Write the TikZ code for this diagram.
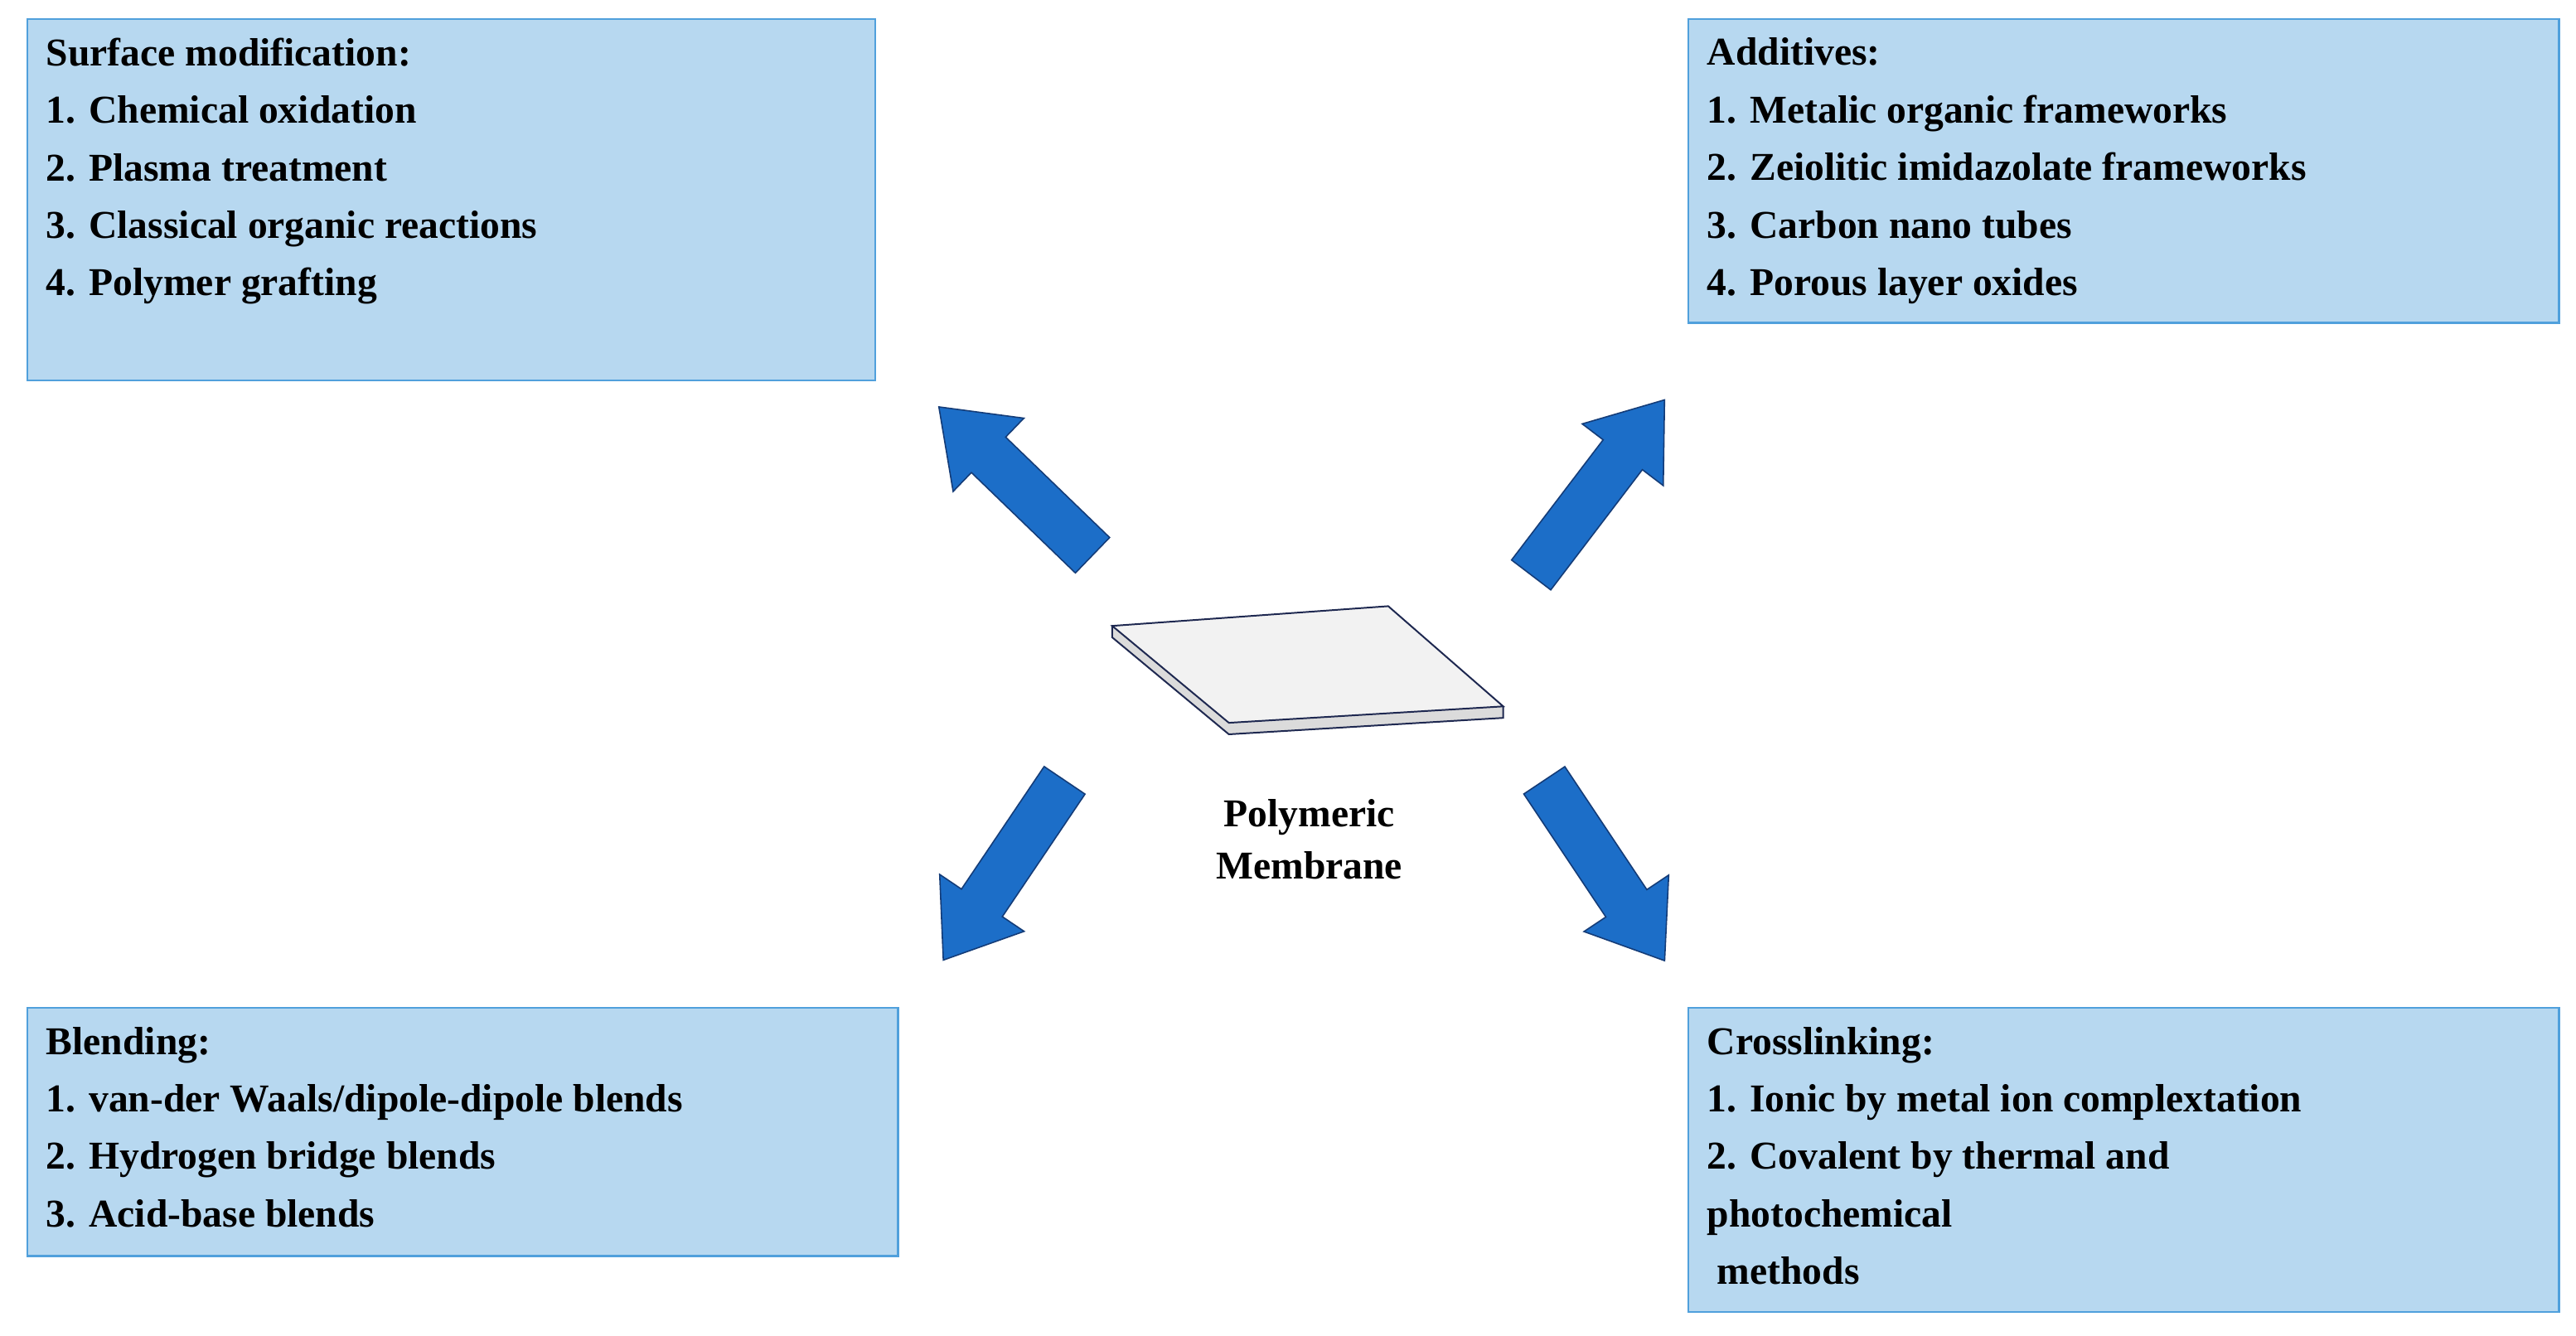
\documentclass[tikz,border=0pt]{standalone}
\usepackage{fontspec}
\setmainfont{Liberation Serif}
\begin{document}
\begin{tikzpicture}[x=1pt,y=1pt,
  box/.style={draw=boxedge,line width=1.2pt,fill=boxfill,anchor=north west,inner sep=0pt},
  boxtext/.style={anchor=north west,align=left,inner sep=0pt,font=\fontsize{24}{35}\selectfont\bfseries},
  blk/.style={fill=arrowblue,draw=arrowedge,line width=0.8pt,line join=miter}]
\definecolor{boxfill}{RGB}{183,216,240}
\definecolor{boxedge}{RGB}{80,160,220}
\definecolor{arrowblue}{RGB}{28,110,200}
\definecolor{arrowedge}{RGB}{20,60,120}
\definecolor{memb}{RGB}{242,242,242}
\definecolor{membedge}{RGB}{30,40,80}
\useasboundingbox[fill=white] (0,0) rectangle (1568,813);
% boxes
\node[box,minimum width=516pt,minimum height=220pt] (tl) at (16,802) {};
\node[boxtext] (tlt) at ([xshift=12pt,yshift=-12pt]tl.north west) {Surface modification:\\1. Chemical oxidation\\2. Plasma treatment\\3. Classical organic reactions\\4. Polymer grafting};
\node[box,minimum width=530pt,minimum height=185pt] (tr) at (1027,802) {};
\node[boxtext] (trt) at ([xshift=12pt,yshift=-12pt]tr.north west) {Additives:\\1. Metalic organic frameworks\\2. Zeiolitic imidazolate frameworks\\3. Carbon nano tubes\\4. Porous layer oxides};
\node[box,minimum width=530pt,minimum height=151pt] (bl) at (16,200) {};
\node[boxtext] (blt) at ([xshift=12pt,yshift=-12pt]bl.north west) {Blending:\\1. van-der Waals/dipole-dipole blends\\2. Hydrogen bridge blends\\3. Acid-base blends};
\node[box,minimum width=530pt,minimum height=185pt] (br) at (1027,200) {};
\node[boxtext] (brt) at ([xshift=12pt,yshift=-12pt]br.north west) {Crosslinking:\\1. Ionic by metal ion complextation\\2. Covalent by thermal and\\photochemical\\\ methods};
% membrane
\coordinate (m1) at (677,432);
\coordinate (m2) at (845,444);
\coordinate (m3) at (915,383);
\coordinate (m4) at (748,373);
\fill[memb!80!gray] (m1) -- (m4) -- (m3) -- ([yshift=-7pt]m3) -- ([yshift=-7pt]m4) -- ([yshift=-7pt]m1) -- cycle;
\draw[membedge,line width=1pt] (m1) -- ([yshift=-7pt]m1) -- ([yshift=-7pt]m4) -- ([yshift=-7pt]m3) -- (m3);
\draw[membedge,line width=1pt,fill=memb] (m1) -- (m2) -- (m3) -- (m4) -- cycle;
\node[font=\fontsize{24}{32}\selectfont\bfseries,align=center] (lab) at (797,302) {Polymeric\\Membrane};
% arrows
\newcommand{\blockarrow}[4]{%
 \draw[blk,shift={(#1,#2)},rotate=#3] (0,-15) -- (#4-42,-15) -- (#4-42,-31) -- (#4,0) -- (#4-42,31) -- (#4-42,15) -- (0,15) -- cycle;}
\blockarrow{665}{475}{136}{130}
\blockarrow{932}{463}{52.7}{134}
\blockarrow{648}{338}{236}{132}
\blockarrow{940}{338}{-56.3}{132}
\end{tikzpicture}
\end{document}
